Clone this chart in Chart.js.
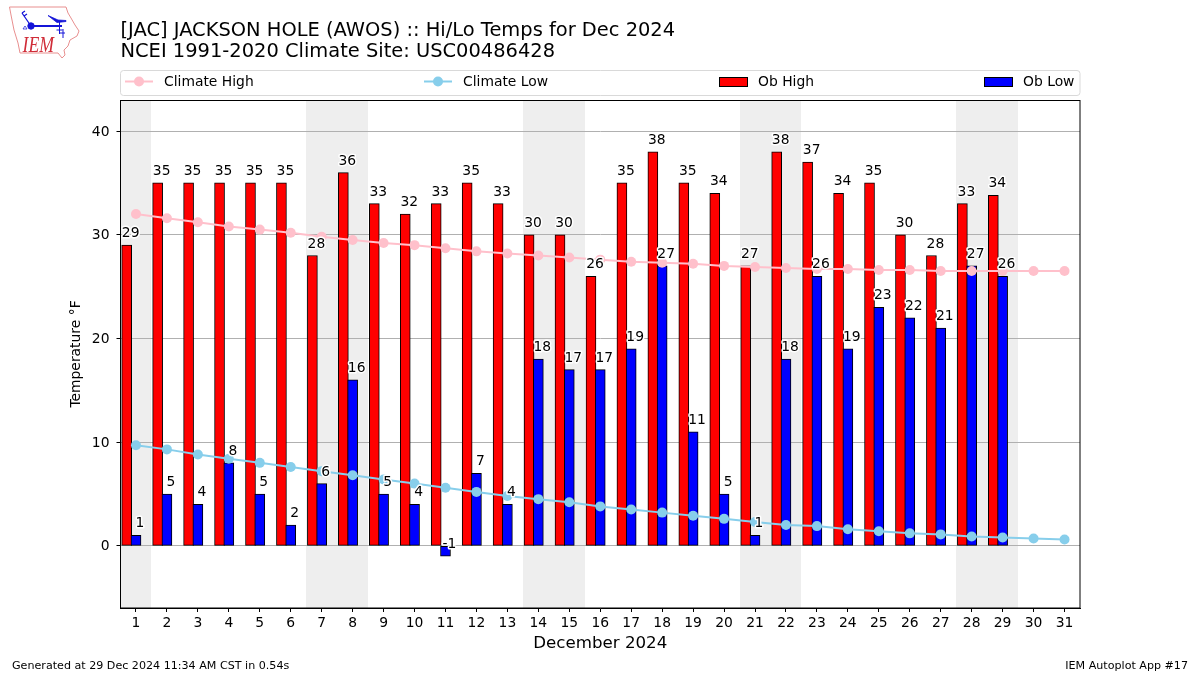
<!DOCTYPE html>
<html>
<head>
<meta charset="utf-8">
<style>
html,body{margin:0;padding:0;background:#fff;}
#wrap{position:relative;width:1200px;height:675px;overflow:hidden;}
canvas{display:block;position:absolute;left:0;top:0;}
svg{position:absolute;left:0;top:0;}
</style>
<script src="https://cdn.jsdelivr.net/npm/chart.js@4"></script>
</head>
<body>
<div id="wrap">
<canvas id="c" width="1200" height="675"></canvas>
<svg width="90" height="64" viewBox="0 0 90 64">
  <path d="M9.5 7 L66 7 L68 13 L71 18 L75 25 L79 31 L77 36 L70 40 L68 46 L64 50 L65 55 L62 58 L58 53 L20 53 L18 43 L14 30 L11 15 Z" fill="#fff" stroke="#e88f8f" stroke-width="1"/>
  <g stroke="#1414d8" fill="#1414d8">
    <line x1="31" y1="26" x2="62" y2="26" stroke-width="2"/>
    <circle cx="31" cy="26" r="3.2"/>
    <path d="M31 26 L22 13 M22 13 L25 11 M24 16 L27 14" stroke-width="1.3" fill="none"/>
    <path d="M48 15.5 L58 20 L66 20.5 L66 21.5 L57 22.5 Z" stroke-width="0.8"/>
    <path d="M59.5 21 L59.5 34 M56.5 30 L62.5 30 M63 29 L63 38 M60 33 L65 33" stroke-width="1" fill="none"/>
    <path d="M23 29 L25 26 L27 29 Z" stroke-width="0.7" fill="none"/>
  </g>
  <text transform="translate(22.5,52) scale(1,1.25)" font-family="Liberation Serif" font-style="italic" font-size="17.7" fill="#d02c38">IEM</text>
</svg>
</div>
<script>
const titleLines = ["[JAC] JACKSON HOLE (AWOS) :: Hi/Lo Temps for Dec 2024", "NCEI 1991-2020 Climate Site: USC00486428"];
const days = [1,2,3,4,5,6,7,8,9,10,11,12,13,14,15,16,17,18,19,20,21,22,23,24,25,26,27,28,29,30,31];
const obHigh = [29,35,35,35,35,35,28,36,33,32,33,35,33,30,30,26,35,38,35,34,27,38,37,34,35,30,28,33,33.8];
const obLow = [1,5,4,8,5,2,6,16,5,4,-1,7,4,18,17,17,19,27,11,5,1,18,26,19,23,22,21,27,26];
const climateHigh = [32.0,31.6,31.2,30.8,30.5,30.2,29.8,29.5,29.2,29.0,28.7,28.4,28.2,28.0,27.8,27.6,27.4,27.3,27.2,27.0,26.9,26.8,26.7,26.7,26.6,26.6,26.5,26.5,26.5,26.5,26.5];
const climateLow = [9.7,9.3,8.8,8.4,8.0,7.6,7.2,6.8,6.4,6.0,5.6,5.2,4.8,4.5,4.2,3.8,3.5,3.2,2.9,2.6,2.3,2.0,1.9,1.6,1.4,1.2,1.1,0.9,0.8,0.7,0.6];
const weekendDays = [1,7,8,14,15,21,22,28,29];
const yTicks = [0,10,20,30,40];
const xTitle = "December 2024";
const yTitle = "Temperature \u00B0F";
const footerLeft = "Generated at 29 Dec 2024 11:34 AM CST in 0.54s";
const footerRight = "IEM Autoplot App #17";
const legendItems = [
  {label:"Climate High", kind:"line", color:"#ffc0cb", hx:125, tx:164},
  {label:"Climate Low", kind:"line", color:"#87ceeb", hx:424, tx:463},
  {label:"Ob High", kind:"bar", color:"#ff0000", hx:719, tx:758},
  {label:"Ob Low", kind:"bar", color:"#0000ff", hx:984, tx:1023}
];
const FONT = '"DejaVu Sans"';

const decorations = {
  id:"decorations",
  beforeDraw(chart){
    const {ctx,chartArea:a,scales:{x}} = chart;
    ctx.save();
    ctx.fillStyle="#eeeeee";
    weekendDays.forEach(d=>{
      const l=Math.round(x.getPixelForValue(d-0.5)), r=Math.round(x.getPixelForValue(d+0.5));
      ctx.fillRect(l,a.top,r-l,a.bottom-a.top);
    });
    ctx.restore();
  },
  afterDatasetsDraw(chart){
    const {ctx,chartArea:a} = chart;
    ctx.save();
    ctx.strokeStyle="#000"; ctx.lineWidth=1;
    ctx.strokeRect(a.left,a.top+0.5,a.right-a.left,a.bottom-a.top-0.5);
    ctx.font='13.89px '+FONT;
    ctx.textAlign="center"; ctx.textBaseline="alphabetic";
    ctx.lineJoin="round";
    [0,1].forEach(i=>{
      const meta=chart.getDatasetMeta(i), vals=i===0?obHigh:obLow;
      meta.data.forEach((el,j)=>{
        const t=String(Math.round(vals[j]));
        const tx=el.x+4, ty=el.y-8;
        ctx.strokeStyle="#fff"; ctx.lineWidth=3;
        ctx.strokeText(t,tx,ty);
        ctx.fillStyle="#000";
        ctx.fillText(t,tx,ty);
      });
    });
    ctx.restore();
  },
  afterDraw(chart){
    const {ctx} = chart;
    ctx.save();
    ctx.beginPath();
    ctx.roundRect(120.5,70.5,959.5,25,3);
    ctx.fillStyle="#fff"; ctx.fill();
    ctx.strokeStyle="#d9d9d9"; ctx.lineWidth=1; ctx.stroke();
    ctx.font='13.89px '+FONT; ctx.textBaseline="middle"; ctx.textAlign="left";
    legendItems.forEach(it=>{
      if(it.kind==="line"){
        ctx.strokeStyle=it.color; ctx.lineWidth=2;
        ctx.beginPath(); ctx.moveTo(it.hx,81.5); ctx.lineTo(it.hx+28,81.5); ctx.stroke();
        ctx.fillStyle=it.color;
        ctx.beginPath(); ctx.arc(it.hx+14,81.5,5,0,Math.PI*2); ctx.fill();
      } else {
        ctx.fillStyle=it.color; ctx.fillRect(it.hx+.5,77.5,28,9);
        ctx.strokeStyle="#000"; ctx.lineWidth=1; ctx.strokeRect(it.hx+.5,77.5,28,9);
      }
      ctx.fillStyle="#000";
      ctx.fillText(it.label,it.tx,82.5);
    });
    ctx.font='11.11px '+FONT; ctx.fillStyle="#000";
    ctx.textAlign="left"; ctx.fillText(footerLeft,12,666);
    ctx.textAlign="right"; ctx.fillText(footerRight,1188,666);
    ctx.restore();
  }
};

new Chart(document.getElementById("c"),{
  type:"bar",
  plugins:[decorations],
  data:{datasets:[
    {type:"bar",label:"Ob High",data:obHigh.map((v,i)=>({x:days[i]-0.3,y:v})),backgroundColor:"#ff0000",borderColor:"#000",borderWidth:1,borderSkipped:false,barThickness:10,grouped:false,order:3},
    {type:"bar",label:"Ob Low",data:obLow.map((v,i)=>({x:days[i],y:v})),backgroundColor:"#0000ff",borderColor:"#000",borderWidth:1,borderSkipped:false,barThickness:10,grouped:false,order:2},
    {type:"line",label:"Climate High",data:climateHigh.map((v,i)=>({x:days[i],y:v})),borderColor:"#ffc0cb",backgroundColor:"#ffc0cb",borderWidth:2,pointRadius:5,pointBorderWidth:0,tension:0,order:1},
    {type:"line",label:"Climate Low",data:climateLow.map((v,i)=>({x:days[i],y:v})),borderColor:"#87ceeb",backgroundColor:"#87ceeb",borderWidth:2,pointRadius:5,pointBorderWidth:0,tension:0,order:0}
  ]},
  options:{
    responsive:false,animation:false,
    layout:{padding:{left:0,right:120,top:0,bottom:0}},
    plugins:{
      legend:{display:false},tooltip:{enabled:false},
      title:{display:true,text:titleLines,align:"start",fullSize:false,color:"#000",
        font:{family:FONT,size:19.44,weight:"normal",lineHeight:"21px"},padding:{top:20,bottom:38}}
    },
    scales:{
      x:{type:"linear",min:0.5,max:31.5,offset:false,
        afterBuildTicks(ax){ax.ticks=days.map(v=>({value:v}));},
        afterFit(ax){ax.height=67;},
        grid:{offset:false,drawOnChartArea:false,color:"#000",tickColor:"#000",tickLength:4},
        border:{color:"#000"},
        ticks:{autoSkip:false,maxRotation:0,color:"#000",padding:3,font:{family:FONT,size:13.89},callback:v=>String(v)},
        title:{display:true,text:xTitle,color:"#000",font:{family:FONT,size:16.67},padding:{top:0,bottom:21}}
      },
      y:{type:"linear",min:-6,max:43,
        afterBuildTicks(ax){ax.ticks=yTicks.map(v=>({value:v}));},
        afterFit(ax){ax.width=120.5;},
        grid:{color:"#b0b0b0",tickColor:"#000",tickLength:4,lineWidth:1},
        border:{color:"#000"},
        ticks:{color:"#000",padding:7,labelOffset:1,font:{family:FONT,size:13.89},callback:v=>String(v)},
        title:{display:true,text:yTitle,color:"#000",font:{family:FONT,size:13.89},padding:{top:68.5,bottom:0}}
      }
    }
  }
});
</script>
</body>
</html>
